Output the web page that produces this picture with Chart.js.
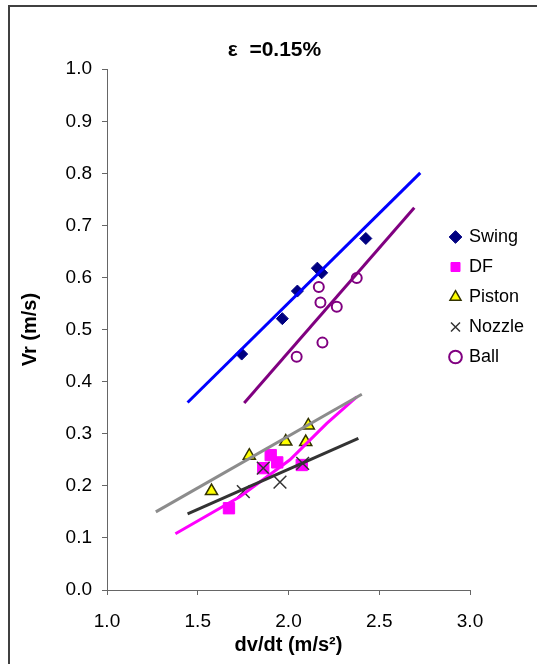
<!DOCTYPE html>
<html>
<head>
<meta charset="utf-8">
<script src="https://cdn.jsdelivr.net/npm/chart.js@4.4.1/dist/chart.umd.min.js"></script>
<style>
	body { margin: 0; background: #fff; }
	#wrap { position: relative; width: 537px; height: 664px; }
	#frame {
		position: absolute; left: 8px; top: 5px; right: -10px; bottom: -10px;
		border-left: 2px solid #404040; border-top: 2px solid #404040;
		pointer-events: none;
	}
	canvas { position: absolute; left: 0; top: 0; }
</style>
</head>
<body>
<div id="wrap">
	<div id="frame"></div>
	<canvas id="chart" width="537" height="664"></canvas>
</div>
<script>
'use strict';

// measured points, dv/dt (x) and Vr (y)
const swingX = [1.742, 1.966, 2.049, 2.159, 2.183, 2.426];
const swingY = [0.453, 0.521, 0.574, 0.618, 0.609, 0.675];
const dfX = [1.672, 1.861, 1.902, 1.938, 2.073];
const dfY = [0.157, 0.234, 0.259, 0.245, 0.240];
const pistonX = [1.576, 1.784, 1.985, 2.109, 2.095];
const pistonY = [0.190, 0.258, 0.285, 0.316, 0.284];
const nozzleX = [1.751, 1.953, 1.861, 2.078];
const nozzleY = [0.189, 0.207, 0.234, 0.243];
const ballX = [2.167, 2.176, 2.266, 2.376, 2.187, 2.045];
const ballY = [0.582, 0.552, 0.544, 0.599, 0.475, 0.448];

// fitted curves
const swingFitX = [1.444, 2.726];
const swingFitY = [0.360, 0.801];
const ballFitX = [1.756, 2.693];
const ballFitY = [0.359, 0.734];
const pistonFitX = [1.269, 2.404];
const pistonFitY = [0.150, 0.376];
const nozzleFitX = [1.444, 2.385];
const nozzleFitY = [0.146, 0.291];
const dfFitX = [1.377, 1.732, 2.008, 2.211, 2.376];
const dfFitY = [0.108, 0.179, 0.250, 0.320, 0.371];

const xTicks = [1.0, 1.5, 2.0, 2.5, 3.0];
const yTicks = [0.0, 0.1, 0.2, 0.3, 0.4, 0.5, 0.6, 0.7, 0.8, 0.9, 1.0];

const FONT = 'Arial, "Liberation Sans", sans-serif';

function pts(xs, ys) {
	return xs.map((x, i) => ({x: x, y: ys[i]}));
}

function marks(label, xs, ys, style) {
	return Object.assign({
		label: label,
		data: pts(xs, ys),
		showLine: false,
		order: 2
	}, style);
}

function fit(xs, ys, color) {
	return {
		label: '',
		data: pts(xs, ys),
		showLine: true,
		borderColor: color,
		borderWidth: 3,
		pointRadius: 0,
		tension: 0,
		order: 0
	};
}

// legend sits inside the plot's right edge in the original
const legendNudge = {
	id: 'legendNudge',
	afterLayout(chart) {
		let lg = chart.legend;
		if (!lg) return;
		lg.left = 439;
		lg.right = chart.width;
		lg.width = lg.right - lg.left;
		lg.top = 216;
	}
};

let ctx = document.getElementById('chart');
let chart = new Chart(ctx, {
	type: 'scatter',
	data: {
		datasets: [
			marks('Swing', swingX, swingY, {
				pointStyle: 'rectRot', pointRadius: 6,
				backgroundColor: '#000080', borderColor: '#000080', borderWidth: 1
			}),
			marks('DF', dfX, dfY, {
				pointStyle: 'rect', pointRadius: 8,
				backgroundColor: '#FF00FF', borderColor: '#FF00FF', borderWidth: 1
			}),
			marks('Piston', pistonX, pistonY, {
				pointStyle: 'triangle', pointRadius: 7,
				backgroundColor: '#FFFF00', borderColor: '#333300', borderWidth: 1.5
			}),
			marks('Nozzle', nozzleX, nozzleY, {
				pointStyle: 'crossRot', pointRadius: 9, order: 1,
				backgroundColor: '#333333', borderColor: '#333333', borderWidth: 1.5
			}),
			marks('Ball', ballX, ballY, {
				pointStyle: 'circle', pointRadius: 5,
				backgroundColor: 'rgba(0,0,0,0)', borderColor: '#800080', borderWidth: 2
			}),
			fit(swingFitX, swingFitY, '#0000FF'),
			fit(ballFitX, ballFitY, '#800080'),
			fit(pistonFitX, pistonFitY, '#8C8C8C'),
			fit(nozzleFitX, nozzleFitY, '#333333'),
			fit(dfFitX, dfFitY, '#FF00FF')
		]
	},
	options: {
		responsive: false,
		animation: false,
		devicePixelRatio: 1,
		layout: {padding: {left: 12, right: 0, top: 0, bottom: 0}},
		plugins: {
			title: {
				display: true,
				text: 'ε  =0.15%',
				color: '#000',
				fullSize: true,
				font: {family: FONT, size: 21, weight: 'bold'},
				padding: {top: 38, bottom: 6}
			},
			legend: {
				display: true,
				position: 'right',
				align: 'start',
				fullSize: false,
				maxWidth: 67,
				labels: {
					usePointStyle: true,
					boxWidth: 9,
					boxHeight: 9,
					padding: 12,
					color: '#000',
					font: {family: FONT, size: 18},
					filter: (item) => item.text !== '',
					sort: (a, b) => a.datasetIndex - b.datasetIndex
				}
			},
			tooltip: {enabled: false}
		},
		scales: {
			x: {
				type: 'linear',
				min: xTicks[0],
				max: xTicks[xTicks.length - 1],
				afterBuildTicks: (axis) => { axis.ticks = xTicks.map((v) => ({value: v})); },
				afterFit: (axis) => { axis.height = 74; },
				ticks: {
					color: '#000',
					padding: 15,
					font: {family: FONT, size: 19},
					callback: (v) => v.toFixed(1)
				},
				grid: {drawOnChartArea: false, drawTicks: true, tickLength: 5, color: '#666'},
				border: {display: true, color: '#666', width: 1},
				title: {
					display: true,
					text: 'dv/dt (m/s²)',
					color: '#000',
					font: {family: FONT, size: 20, weight: 'bold'},
					padding: {top: 0, bottom: 7}
				}
			},
			y: {
				type: 'linear',
				min: yTicks[0],
				max: yTicks[yTicks.length - 1],
				afterBuildTicks: (axis) => { axis.ticks = yTicks.map((v) => ({value: v})); },
				afterFit: (axis) => { axis.width = 95; },
				ticks: {
					color: '#000',
					padding: 10,
					font: {family: FONT, size: 19},
					callback: (v) => v.toFixed(1)
				},
				grid: {drawOnChartArea: false, drawTicks: true, tickLength: 5, color: '#666'},
				border: {display: true, color: '#666', width: 1},
				title: {
					display: true,
					text: 'Vr (m/s)',
					color: '#000',
					font: {family: FONT, size: 20, weight: 'bold'},
					padding: {top: 6, bottom: 0}
				}
			}
		}
	},
	plugins: [legendNudge]
});
</script>
</body>
</html>
